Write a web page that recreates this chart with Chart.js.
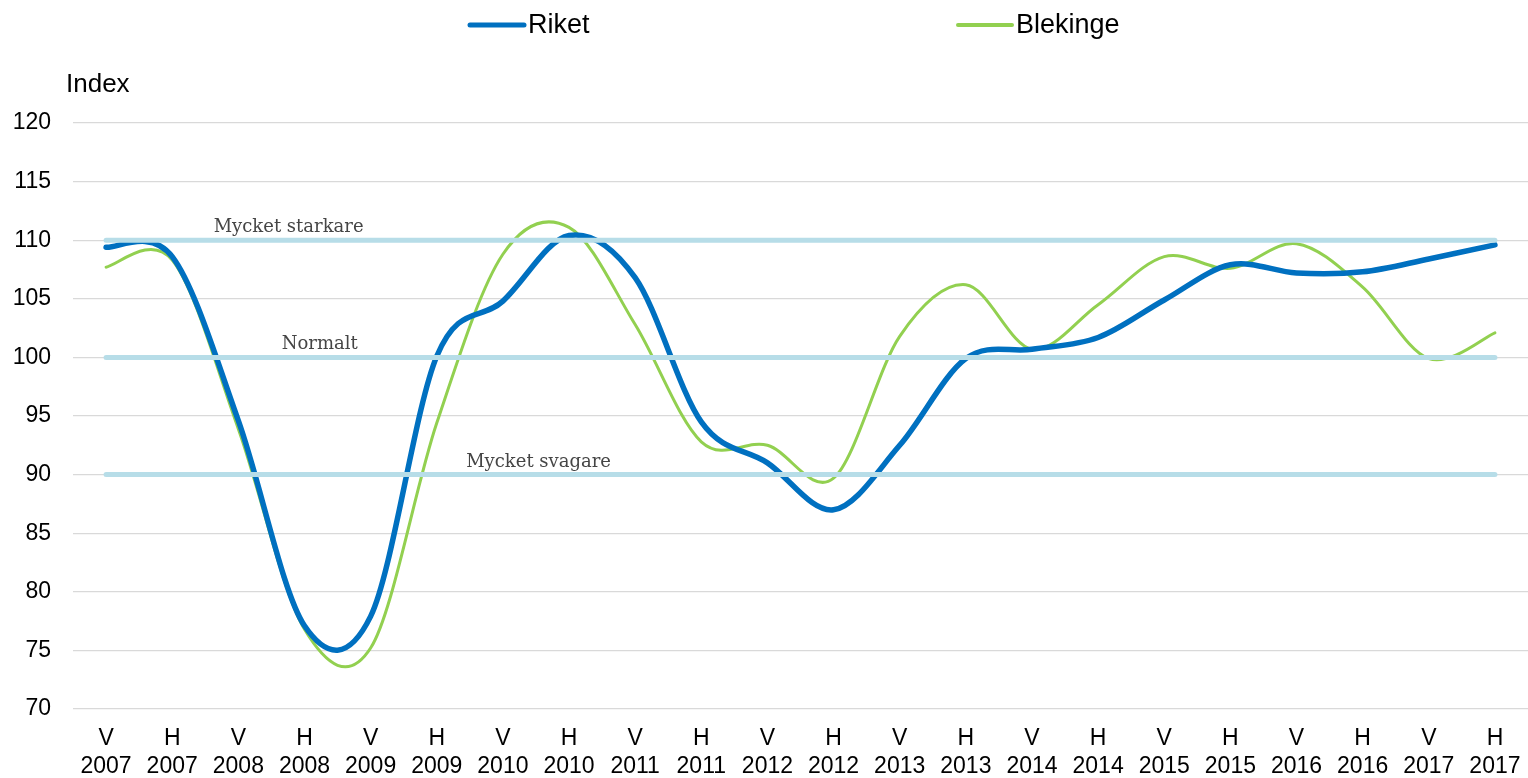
<!DOCTYPE html>
<html>
<head>
<meta charset="utf-8">
<script src="https://cdn.jsdelivr.net/npm/chart.js@4.4.1/dist/chart.umd.min.js"></script>
<style>
  html, body { margin: 0; padding: 0; background: #ffffff; }
  #wrap { position: relative; width: 1528px; height: 778px; }
  canvas { display: block; }
</style>
</head>
<body>
<div id="wrap"><canvas id="c" width="1528" height="778"></canvas></div>
<script>
// ---- data ----
const categories = [
  ['V','2007'],['H','2007'],['V','2008'],['H','2008'],['V','2009'],['H','2009'],
  ['V','2010'],['H','2010'],['V','2011'],['H','2011'],['V','2012'],['H','2012'],
  ['V','2013'],['H','2013'],['V','2014'],['H','2014'],['V','2015'],['H','2015'],
  ['V','2016'],['H','2016'],['V','2017'],['H','2017']
];
const riket = [109.4, 108.6, 94.6, 77.1, 77.9, 100.1, 104.8, 110.4, 106.8, 94.5, 91.0,
               87.0, 92.5, 99.9, 100.7, 101.7, 104.9, 107.9, 107.2, 107.3, 108.4, 109.6];
const blekinge = [107.7, 108.3, 93.9, 76.8, 75.2, 94.4, 108.8, 111.1, 102.8, 92.8, 92.5,
                  89.7, 101.8, 106.2, 100.7, 104.5, 108.6, 107.6, 109.7, 106.0, 99.9, 102.1];
const seriesNames = ['Riket', 'Blekinge'];
const thresholds = [110, 100, 90];
const thresholdLabels = ['Mycket starkare', 'Normalt', 'Mycket svagare'];
const yTicks = [70, 75, 80, 85, 90, 95, 100, 105, 110, 115, 120];
const yAxisTitle = 'Index';

// ---- styles ----
const BLUE = '#0070c0';
const GREEN = '#92d050';
const REF = '#b7dde8';
const SANS = '"Liberation Sans", Arial, sans-serif';
const SERIF = '"DejaVu Serif", "Liberation Serif", serif';

// Uniform Catmull-Rom smoothing (Excel-like) on the points placed by the scales
const smoothPlugin = {
  id: 'smooth',
  beforeDatasetsDraw(chart) {
    chart.data.datasets.forEach((ds, di) => {
      const pts = chart.getDatasetMeta(di).data;
      const n = pts.length;
      for (let i = 0; i < n; i++) {
        const p = pts[i];
        const prev = pts[Math.max(i - 1, 0)];
        const next = pts[Math.min(i + 1, n - 1)];
        const tx = (next.x - prev.x) / 6;
        const ty = (next.y - prev.y) / 6;
        p.cp1x = p.x - tx; p.cp1y = p.y - ty;
        p.cp2x = p.x + tx; p.cp2y = p.y + ty;
      }
    });
  }
};

// Threshold lines + their labels (drawn through the chart scales)
const thresholdPlugin = {
  id: 'thresholds',
  afterDatasetsDraw(chart, args, opts) {
    const { ctx, scales: { x, y } } = chart;
    const x0 = x.getPixelForValue(0);
    const x1 = x.getPixelForValue(categories.length - 1);
    ctx.save();
    ctx.strokeStyle = REF;
    ctx.lineWidth = 5;
    ctx.lineCap = 'round';
    thresholds.forEach(v => {
      const py = y.getPixelForValue(v);
      ctx.beginPath();
      ctx.moveTo(x0, py);
      ctx.lineTo(x1, py);
      ctx.stroke();
    });
    ctx.fillStyle = '#454545';
    ctx.font = '18px ' + SERIF;
    ctx.textAlign = 'center';
    ctx.textBaseline = 'alphabetic';
    thresholds.forEach((v, i) => {
      const px = x.getPixelForValue(opts.labelAt[i]);
      const py = y.getPixelForValue(v) - 8;
      ctx.fillText(thresholdLabels[i], px, py);
    });
    ctx.restore();
  }
};

// Legend + axis title
const legendPlugin = {
  id: 'customLegend',
  afterDraw(chart, args, opts) {
    const { ctx } = chart;
    ctx.save();
    chart.data.datasets.forEach((ds, i) => {
      const it = opts.items[i];
      ctx.strokeStyle = ds.borderColor;
      ctx.lineWidth = it.w;
      ctx.lineCap = 'round';
      ctx.beginPath();
      ctx.moveTo(it.x, opts.y);
      ctx.lineTo(it.x + 54, opts.y);
      ctx.stroke();
      ctx.fillStyle = '#000000';
      ctx.font = '27px ' + SANS;
      ctx.textAlign = 'left';
      ctx.textBaseline = 'middle';
      ctx.fillText(ds.label, it.x + 58, opts.y + 1);
    });
    ctx.font = '26px ' + SANS;
    ctx.textAlign = 'left';
    ctx.textBaseline = 'middle';
    ctx.fillStyle = '#000000';
    ctx.fillText(yAxisTitle, 66, 85);
    ctx.restore();
  }
};

new Chart(document.getElementById('c'), {
  type: 'line',
  data: {
    labels: categories,
    datasets: [
      { label: seriesNames[0], data: riket, borderColor: BLUE, borderWidth: 5.5,
        pointRadius: 0, tension: 0.4, fill: false, borderCapStyle: 'round', order: 0 },
      { label: seriesNames[1], data: blekinge, borderColor: GREEN, borderWidth: 3,
        pointRadius: 0, tension: 0.4, fill: false, borderCapStyle: 'round', order: 1 }
    ]
  },
  options: {
    responsive: false,
    animation: false,
    devicePixelRatio: 1,
    layout: { padding: { top: 123, right: 0, bottom: 0, left: 0 } },
    plugins: {
      legend: { display: false },
      tooltip: { enabled: false },
      thresholds: { labelAt: [2.76, 3.23, 6.54] },
      customLegend: { y: 25, items: [{ x: 470, w: 5 }, { x: 958, w: 4 }] }
    },
    scales: {
      x: {
        type: 'category',
        offset: true,
        grid: { display: false, drawTicks: false },
        border: { display: false },
        ticks: {
          autoSkip: false, maxRotation: 0, minRotation: 0, padding: 16,
          color: '#000000', font: { family: SANS, size: 23 }
        },
        afterFit(scale) { scale.height = 69; scale.paddingLeft = 0; scale.paddingRight = 0; }
      },
      y: {
        min: 70, max: 120,
        afterBuildTicks(scale) { scale.ticks = yTicks.map(v => ({ value: v })); },
        grid: { color: '#d9d9d9', lineWidth: 1.3, drawTicks: false },
        border: { display: false },
        ticks: { padding: 22, color: '#000000', font: { family: SANS, size: 23 } },
        afterFit(scale) { scale.width = 73; }
      }
    }
  },
  plugins: [smoothPlugin, thresholdPlugin, legendPlugin]
});
</script>
</body>
</html>
